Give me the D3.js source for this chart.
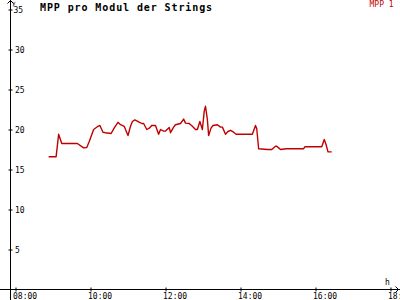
<!DOCTYPE html>
<html><head><meta charset="utf-8">
<script src="https://cdn.jsdelivr.net/npm/d3@7"></script>
<style>
html,body{margin:0;padding:0;background:#fff;}
svg{display:block;}
text{font-family:"DejaVu Sans Mono",monospace;}
</style></head>
<body>
<svg id="c" width="400" height="300"></svg>
<script>
const title = "MPP pro Modul der Strings";
const seriesName = "MPP 1";
const xTickHours = [8, 10, 12, 14, 16, 18];
const yTickValues = [5, 10, 15, 20, 25, 30, 35];
const times = ["08:53","09:05","09:09","09:14","09:39","09:49","09:54","09:58","10:05","10:12","10:15","10:20","10:24","10:33","10:38","10:44","10:48","10:54","10:56","11:00","11:04","11:07","11:11","11:17","11:22","11:25","11:30","11:34","11:38","11:44","11:49","11:52","11:57","12:00","12:06","12:08","12:13","12:16","12:24","12:29","12:32","12:38","12:43","12:48","12:51","12:55","12:59","13:02","13:04","13:07","13:09","13:13","13:16","13:23","13:28","13:31","13:36","13:40","13:44","13:49","13:53","14:19","14:24","14:26","14:29","14:43","14:50","14:56","14:58","15:01","15:04","15:13","15:41","15:43","16:10","16:14","16:17","16:20","16:26"];
const values = [16.6,16.6,19.4,18.25,18.25,17.7,17.75,18.5,20.0,20.4,20.5,19.66,19.6,19.5,20.2,20.9,20.6,20.4,20.0,19.25,20.4,21.0,21.2,20.96,20.75,20.75,20.0,20.16,20.5,20.5,19.4,20.0,19.8,19.8,20.25,19.6,20.3,20.6,20.75,21.3,20.8,20.75,20.4,20.0,20.0,21.0,20.0,22.3,22.9,21.25,19.25,20.2,20.5,20.6,20.3,20.3,19.4,19.75,19.9,19.66,19.4,19.4,20.5,20.1,17.6,17.5,17.5,17.9,17.9,17.7,17.5,17.6,17.6,17.84,17.84,18.75,18.1,17.2,17.2];

const toH = s => { const [h, m] = s.split(":").map(Number); return h + m / 60; };
const data = times.map((t, i) => ({h: toH(t), v: values[i]}));

const svg = d3.select("#c");
const x = d3.scaleLinear().domain([8, 18]).range([15.5, 390.5]);
const y = d3.scaleLinear().domain([0, 35]).range([289.5, 9.5]);
const red = "#c00000";

// axis lines
svg.append("line").attr("x1", 0).attr("x2", 400).attr("y1", 289.5).attr("y2", 289.5)
  .attr("stroke", "#000").attr("shape-rendering", "crispEdges");
svg.append("line").attr("x1", 10.5).attr("x2", 10.5).attr("y1", 0).attr("y2", 300)
  .attr("stroke", "#000").attr("shape-rendering", "crispEdges");
// arrows
svg.append("path").attr("d", "M7.5,3.5L10.5,0.5L13.5,3.5").attr("fill", "none").attr("stroke", "#000");
svg.append("path").attr("d", "M395.5,286.5L398.5,289.5L395.5,292.5").attr("fill", "none").attr("stroke", "#000");

// x axis
const gx = svg.append("g").attr("transform", "translate(0,289.5)")
  .call(d3.axisBottom(x).tickValues(xTickHours).tickSizeOuter(0)
    .tickFormat(d => String(d).padStart(2, "0") + ":00"));
gx.select(".domain").remove();
gx.selectAll(".tick line").attr("y1", -2).attr("y2", 2).attr("stroke", "#000");
gx.selectAll(".tick text").attr("x", -3).attr("y", 9).attr("dy", null)
  .attr("text-anchor", "start").attr("font-size", 8).attr("fill", "#000")
  .attr("font-family", "DejaVu Sans Mono");

// y axis
const gy = svg.append("g").attr("transform", "translate(10.5,0)")
  .call(d3.axisLeft(y).tickValues(yTickValues).tickSizeOuter(0));
gy.select(".domain").remove();
gy.selectAll(".tick line").attr("x1", -2).attr("x2", 2).attr("stroke", "#000");
gy.selectAll(".tick text").attr("x", d => d === 35 ? 3 : 4.5).attr("dy", null).attr("y", 3)
  .attr("text-anchor", "start").attr("font-size", 8).attr("fill", "#000")
  .attr("font-family", "DejaVu Sans Mono");

// axis names
svg.append("text").attr("x", 12).attr("y", 5).attr("font-size", 6).text("y");
svg.append("text").attr("x", 385).attr("y", 284.5).attr("font-size", 8).text("h");

// title & legend
svg.append("text").attr("x", 40).attr("y", 11).attr("font-size", 10).attr("font-weight", "bold")
  .attr("letter-spacing", 0.9).text(title);
svg.append("text").attr("x", 369.5).attr("y", 7).attr("font-size", 8).attr("fill", red).text(seriesName);

// line
const line = d3.line().x(d => x(d.h)).y(d => y(d.v));
svg.append("path").datum(data).attr("d", line).attr("fill", "none")
  .attr("stroke", red).attr("stroke-width", 1.4).attr("stroke-linejoin", "round");
</script>
</body></html>
